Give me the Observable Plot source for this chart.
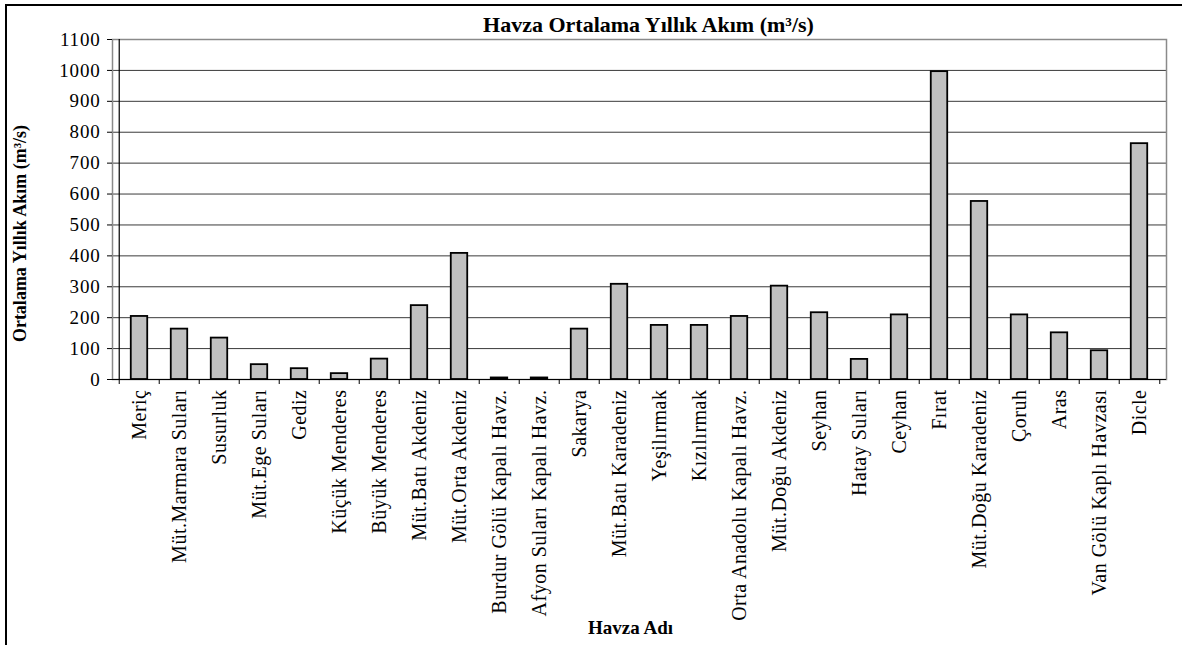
<!DOCTYPE html>
<html>
<head>
<meta charset="utf-8">
<script src="https://cdn.jsdelivr.net/npm/d3@7"></script>
<script src="https://cdn.jsdelivr.net/npm/@observablehq/plot@0.6"></script>
<style>
  html, body { margin: 0; padding: 0; background: #fff; }
  #wrap { position: relative; width: 1182px; height: 645px; overflow: hidden; }
  #border { position: absolute; left: 5px; top: 4px; right: -10px; bottom: -10px;
            border-top: 2px solid #000; border-left: 2px solid #000; pointer-events: none; }
  #chart { position: absolute; left: 0; top: 0; }
  #chart svg text { font-family: 'Liberation Serif', 'Times New Roman', serif; }
  #chart svg g[aria-label="x-axis tick label"] text { letter-spacing: 0.5px; }
  #chart svg g[aria-label="y-axis tick label"] text { letter-spacing: 0.8px; }
</style>
</head>
<body>
<div id="wrap">
  <div id="chart"></div>
  <div id="border"></div>
</div>
<script>
// Basin names (x axis categories)
const basins = [
  "Meriç", "Müt.Marmara Suları", "Susurluk", "Müt.Ege Suları", "Gediz",
  "Küçük Menderes", "Büyük Menderes", "Müt.Batı Akdeniz", "Müt.Orta Akdeniz",
  "Burdur Gölü Kapalı Havz.", "Afyon Suları Kapalı Havz.", "Sakarya",
  "Müt.Batı Karadeniz", "Yeşilırmak", "Kızılırmak", "Orta Anadolu Kapalı Havz.",
  "Müt.Doğu Akdeniz", "Seyhan", "Hatay Suları", "Ceyhan", "Fırat",
  "Müt.Doğu Karadeniz", "Çoruh", "Aras", "Van Gölü Kaplı Havzası", "Dicle"
];

// Mean annual flow per basin (m³/s)
const flows = [
  204, 163, 134, 48, 35,
  19, 66, 239, 408,
  5, 5, 163,
  308, 175, 175, 204,
  302, 216, 65, 209, 996,
  576, 209, 151, 93, 763
];

// Y axis tick values
const yTicks = d3.range(0, 1101, 100);

const chartTitle = "Havza Ortalama Yıllık Akım (m³/s)";
const yTitle = "Ortalama Yıllık Akım (m³/s)";
const xTitle = "Havza Adı";

const rows = basins.map((name, i) => ({name, flow: flows[i]}));

const W = 1182, H = 645;
const mL = 112, mR = 16, mT = 39, mB = 266;
const band = (W - mL - mR) / basins.length;
const barW = 17;
const inset = (band - barW) / 2;
const serif = "'Liberation Serif', 'Times New Roman', serif";

const chart = Plot.plot({
  width: W,
  height: H,
  marginLeft: mL,
  marginRight: mR,
  marginTop: mT,
  marginBottom: mB,
  style: {fontFamily: serif, fontSize: "18px", color: "#000", background: "transparent"},
  x: {type: "band", domain: basins, padding: 0, label: null},
  y: {domain: [0, 1100], label: null},
  marks: [
    // horizontal gridlines
    Plot.ruleY(yTicks.filter(d => d > 0), {stroke: "#3a3a3a", strokeWidth: 1}),
    // plot area border on top / right
    Plot.frame({stroke: "#8a8a8a", strokeWidth: 1.5}),
    // bars
    Plot.barY(rows, {
      x: "name", y: "flow",
      fill: "#c0c0c0", stroke: "#000", strokeWidth: 1.8,
      insetLeft: inset, insetRight: inset
    }),
    // value axis line
    Plot.ruleX([basins[0]], {dx: -band / 2, stroke: "#000", strokeWidth: 1.2}),
    // category axis line
    Plot.ruleY([0], {stroke: "#000", strokeWidth: 1.2}),
    // y axis ticks and labels
    Plot.axisY({
      ticks: yTicks, tickSize: 5, tickPadding: 7,
      tickFormat: d => String(d), fontSize: 19, fontFamily: serif, label: null
    }),
    // category boundary ticks
    Plot.axisX({ticks: basins, tickSize: 5, dx: -band / 2, text: null, label: null}),
    Plot.axisX({ticks: [basins[basins.length - 1]], tickSize: 5, dx: band / 2, text: null, label: null}),
    // rotated category labels
    Plot.axisX({
      ticks: basins, tickSize: 0, tickPadding: 10, tickRotate: -90,
      fontSize: 20, fontFamily: serif, label: null
    }),
    // chart title
    Plot.text([chartTitle], {
      frameAnchor: "top", dx: 9, dy: -8, fontSize: 22, fontWeight: "bold",
      fontFamily: serif, lineAnchor: "bottom", style: "letter-spacing: 0.7px"
    }),
    // y axis title
    Plot.text([yTitle], {
      frameAnchor: "left", textAnchor: "middle", rotate: -90, dx: -92, dy: 24,
      fontSize: 18, fontWeight: "bold", fontFamily: serif,
      style: "letter-spacing: 1.8px"
    }),
    // x axis title
    Plot.text([xTitle], {
      frameAnchor: "bottom", dx: -9, dy: 254, fontSize: 19, fontWeight: "bold",
      fontFamily: serif, style: "letter-spacing: 2.2px"
    })
  ]
});

document.getElementById("chart").appendChild(chart);
</script>
</body>
</html>
